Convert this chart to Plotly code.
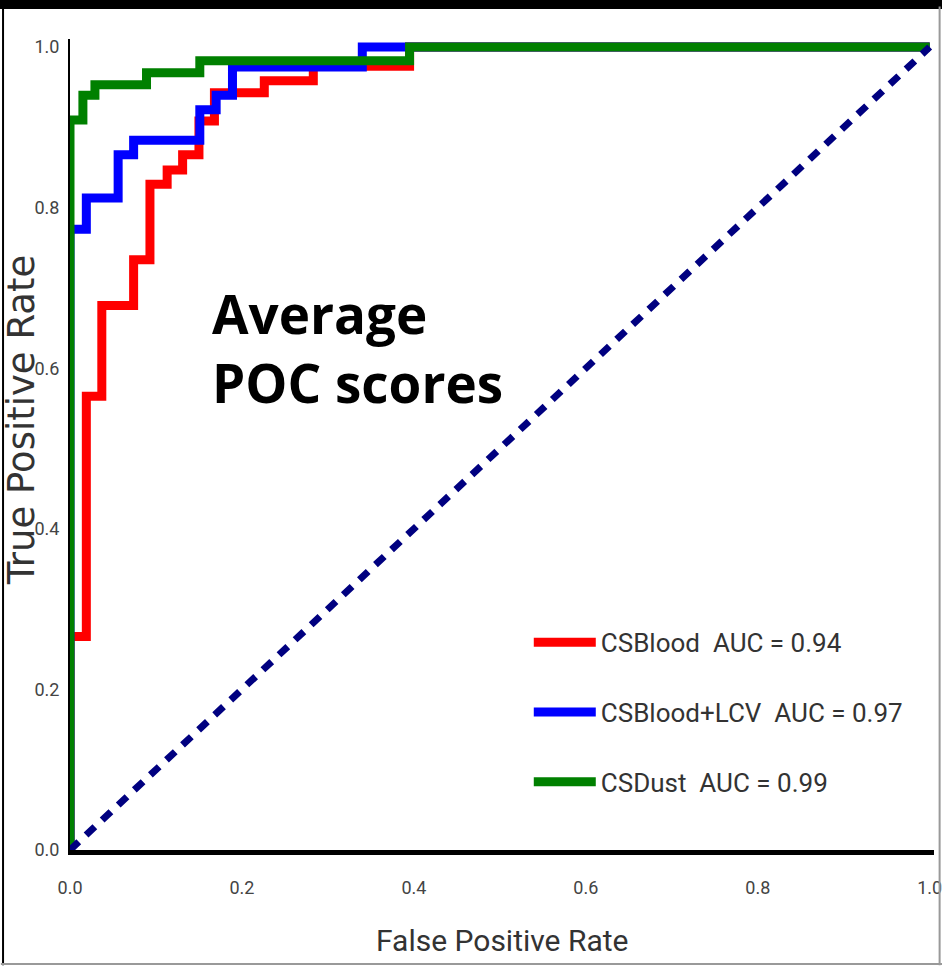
import plotly.graph_objects as go

# ROC curve data
fpr_blood = [0.0, 0.0, 0.019, 0.037, 0.074, 0.093, 0.113, 0.131, 0.150, 0.168, 0.226, 0.283, 0.395, 1.0]
tpr_blood = [0.0, 0.266, 0.565, 0.678, 0.735, 0.829, 0.847, 0.866, 0.908, 0.943, 0.958, 0.976, 1.0, 1.0]

fpr_lcv = [0.0, 0.0, 0.019, 0.056, 0.074, 0.151, 0.170, 0.189, 0.340, 1.0]
tpr_lcv = [0.0, 0.773, 0.812, 0.866, 0.884, 0.922, 0.940, 0.975, 1.0, 1.0]

fpr_dust = [0.0, 0.0, 0.015, 0.029, 0.089, 0.151, 0.395, 1.0]
tpr_dust = [0.0, 0.909, 0.940, 0.953, 0.968, 0.983, 1.0, 1.0]

diag_x = [0.0, 1.0]
diag_y = [0.0, 1.0]

series_names = ["CSBlood  AUC = 0.94", "CSBlood+LCV  AUC = 0.97", "CSDust  AUC = 0.99"]
series_colors = ["#ff0000", "#0000ff", "#008000"]

tick_vals = [0.0, 0.2, 0.4, 0.6, 0.8, 1.0]
tick_text = ["0.0", "0.2", "0.4", "0.6", "0.8", "1.0"]

x_title = "False Positive Rate"
y_title = "True Positive Rate"
note_text = "Average<br>POC scores"

fig = go.Figure()
for i, (fx, ty) in enumerate([(fpr_blood, tpr_blood), (fpr_lcv, tpr_lcv), (fpr_dust, tpr_dust)]):
    fig.add_trace(go.Scatter(
        x=fx, y=ty, mode="lines", name=series_names[i],
        line=dict(color=series_colors[i], width=9, shape="hv"),
        legendgroup=f"g{i}",
    ))

fig.add_trace(go.Scatter(
    x=diag_x, y=diag_y, mode="lines", showlegend=False,
    line=dict(color="#000080", width=7, dash="12px,10px"),
))

tick_font = dict(family="Roboto", size=18, color="#444444")

fig.update_xaxes(
    range=[0, 1.005], tickvals=tick_vals, ticktext=tick_text,
    showgrid=False, zeroline=False, showline=True, linecolor="black", linewidth=5,
    ticks="", ticklabelstandoff=17, tickfont=tick_font, ticklabeloverflow="allow",
    automargin=False,
)
fig.update_yaxes(
    range=[0, 1.01], tickvals=tick_vals, ticktext=tick_text,
    showgrid=False, zeroline=False, showline=True, linecolor="black", linewidth=2,
    ticks="", ticklabelstandoff=5, tickfont=tick_font, ticklabeloverflow="allow",
    automargin=False,
)

fig.add_annotation(
    text=x_title, xref="paper", yref="paper", x=0.5, y=-0.111,
    xanchor="center", yanchor="middle", showarrow=False,
    font=dict(family="Roboto", size=30, color="#333333"),
)
fig.add_annotation(
    text=y_title, xref="paper", yref="paper", x=-0.0565, y=0.53,
    xanchor="center", yanchor="middle", showarrow=False, textangle=-90,
    font=dict(family="DejaVu Sans", size=37, color="#333333"),
)
fig.add_annotation(
    text=note_text, xref="paper", yref="paper", x=0.162, y=0.709,
    xanchor="left", yanchor="top", align="left", showarrow=False,
    font=dict(family="Open Sans", size=53, color="black", weight="bold"),
)

# image frame: black strip on top, thin borders
fig.add_shape(type="rect", xref="paper", yref="paper", x0=-0.1, x1=1.1, y0=1.037, y1=1.07,
              fillcolor="black", line=dict(width=0), layer="above")
fig.add_shape(type="line", xref="paper", yref="paper", x0=-0.0775, x1=-0.0775, y0=-0.142, y1=1.04,
              line=dict(color="black", width=2))
fig.add_shape(type="line", xref="paper", yref="paper", x0=1.0065, x1=1.0065, y0=-0.142, y1=1.04,
              line=dict(color="#999999", width=2))
fig.add_shape(type="line", xref="paper", yref="paper", x0=-0.08, x1=1.01, y0=-0.1405, y1=-0.1405,
              line=dict(color="#999999", width=2))

fig.update_layout(
    width=942, height=966,
    margin=dict(l=70, r=8, t=39, b=116, autoexpand=False),
    paper_bgcolor="white", plot_bgcolor="white",
    showlegend=True,
    legend=dict(
        x=0.531, y=0.285, xanchor="left", yanchor="top",
        font=dict(family="Roboto", size=26, color="#333333"),
        tracegroupgap=33, itemwidth=62, bgcolor="rgba(0,0,0,0)",
    ),
)

fig.write_html("out.html", config={"displayModeBar": False},
               post_script="document.body.style.margin='0';")
